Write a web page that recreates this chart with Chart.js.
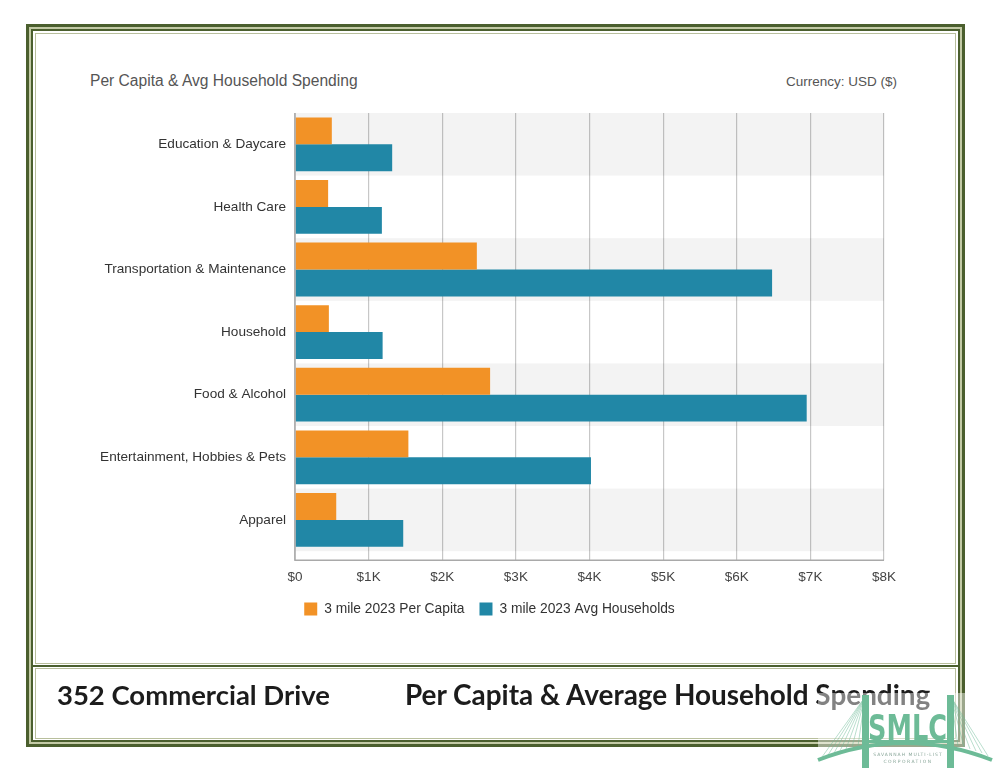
<!DOCTYPE html>
<html><head><meta charset="utf-8">
<script src="https://cdn.jsdelivr.net/npm/chart.js@4.4.0/dist/chart.umd.min.js"></script>
<style>
html,body{margin:0;padding:0;background:#fff;width:993px;height:768px;overflow:hidden;position:relative;font-family:"Liberation Sans",Arial,sans-serif}
.abs{position:absolute;box-sizing:border-box}
.foot{position:absolute;font-family:Lato,"Open Sans",sans-serif;font-weight:bold;color:#1c1c1c;white-space:nowrap;line-height:1}
</style></head><body>
<div class="abs" style="left:26px;top:24px;width:939px;height:723px;border:3px solid #4b5f2e;background:#c3caa6"></div>
<div class="abs" style="left:31px;top:29px;width:929px;height:713px;border:2px solid #4b5f2e;background:#fff"></div>
<div class="abs" style="left:35px;top:33px;width:921px;height:631px;border:1px solid #b8bf9c;background:#fff"></div>
<div class="abs" style="left:33px;top:665px;width:925px;height:2px;background:#4b5f2e"></div>
<div class="abs" style="left:35px;top:668px;width:921px;height:71px;border:1px solid #b8bf9c;background:#fff"></div>

<div class="abs" style="left:90px;top:72px;font-size:15.6px;color:#555;white-space:nowrap">Per Capita &amp; Avg Household Spending</div>
<div class="abs" style="right:96px;top:74px;font-size:13.5px;color:#555;white-space:nowrap">Currency: USD ($)</div>

<div class="abs" style="left:0;top:0;width:993px;height:768px"><canvas id="c"></canvas></div>

<div class="foot" id="f1" style="left:57px;top:682px;font-size:26px">352 Commercial Drive</div>
<div class="foot" id="f2" style="left:405px;top:682px;font-size:26px">Per Capita &amp; Average Household Spending</div>

<svg class="abs" style="left:0;top:0" width="993" height="768" viewBox="0 0 993 768">
  <rect x="818" y="693" width="172" height="75" fill="#fff" opacity="0.45"/>
  <g stroke="#6dbb97" stroke-width="0.6" opacity="0.8">
    <line x1="865" y1="697" x2="822" y2="757"/><line x1="865" y1="697" x2="828" y2="755"/>
    <line x1="865" y1="697" x2="834" y2="753"/><line x1="865" y1="697" x2="840" y2="751"/>
    <line x1="865" y1="697" x2="846" y2="749"/><line x1="865" y1="697" x2="852" y2="747"/>
    <line x1="865" y1="697" x2="858" y2="746"/>
    <line x1="951" y1="697" x2="958" y2="746"/><line x1="951" y1="697" x2="964" y2="747"/>
    <line x1="951" y1="697" x2="970" y2="749"/><line x1="951" y1="697" x2="976" y2="751"/>
    <line x1="951" y1="697" x2="982" y2="753"/><line x1="951" y1="697" x2="988" y2="756"/>
  </g>
  <rect x="862" y="695" width="7" height="73" fill="#6dbb97"/>
  <rect x="947" y="695" width="7" height="73" fill="#6dbb97"/>
  <text x="868" y="740" font-family="DejaVu Sans Condensed, DejaVu Sans" font-weight="bold" font-size="36" fill="#6dbb97" textLength="79" lengthAdjust="spacingAndGlyphs">SMLC</text>
  <rect x="862" y="740" width="92" height="3" fill="#6dbb97"/>
  <path d="M818 760 Q905 726 992 760" stroke="#6dbb97" stroke-width="4" fill="none"/>
  <text x="908" y="756" font-family="DejaVu Sans" font-size="4.5" fill="#8aa79a" text-anchor="middle" letter-spacing="1">SAVANNAH MULTI-LIST</text>
  <text x="908" y="763" font-family="DejaVu Sans" font-size="4.5" fill="#8aa79a" text-anchor="middle" letter-spacing="1.5">CORPORATION</text>
</svg>

<script>
const categories = ['Education & Daycare','Health Care','Transportation & Maintenance','Household','Food & Alcohol','Entertainment, Hobbies & Pets','Apparel'];
const perCapita = [500, 450, 2470, 460, 2650, 1540, 560];
const avgHouseholds = [1320, 1180, 6480, 1190, 6950, 4020, 1470];
const xTickLabels = ['$0','$1K','$2K','$3K','$4K','$5K','$6K','$7K','$8K'];
const seriesNames = ['3 mile 2023 Per Capita','3 mile 2023 Avg Households'];

// fit footer text widths
(function(){
  const ctx = document.createElement('canvas').getContext('2d');
  [['f1',273],['f2',527]].forEach(([id,w])=>{
    const el = document.getElementById(id);
    ctx.font = 'bold 26px Lato';
    const m = ctx.measureText(el.textContent).width;
    const fs = 26 * w / m;
    el.style.fontSize = fs.toFixed(2)+'px';
    el.style.top = (695 - fs*0.5) + 'px';
  });
})();

const bandPlugin = {
  id:'bands',
  beforeDraw(chart){
    const {ctx, chartArea:a, scales:{y}} = chart;
    const h = a.height / categories.length;
    ctx.save();
    ctx.fillStyle = '#f3f3f3';
    categories.forEach((c,i)=>{
      if(i%2===0){
        const cy = y.getPixelForValue(i);
        ctx.fillRect(a.left, cy-h/2, a.right-a.left, h);
      }
    });
    ctx.restore();
  },
  afterDraw(chart){
    const {ctx, chartArea:a} = chart;
    ctx.save();
    ctx.strokeStyle = '#a9a9a9';
    ctx.lineWidth = 1.5;
    ctx.beginPath();
    ctx.moveTo(a.left, a.top);
    ctx.lineTo(a.left, a.bottom+9);
    ctx.lineTo(a.right, a.bottom+9);
    ctx.stroke();
    ctx.restore();
  }
};

Chart.defaults.font.family = '"Liberation Sans", Arial, sans-serif';
Chart.defaults.font.size = 13.5;
Chart.defaults.color = '#333';

new Chart(document.getElementById('c'), {
  type:'bar',
  data:{
    labels: categories,
    datasets:[
      {label: seriesNames[0], data: perCapita, backgroundColor:'#f29226', categoryPercentage:0.86, barPercentage:1},
      {label: seriesNames[1], data: avgHouseholds, backgroundColor:'#2187a6', categoryPercentage:0.86, barPercentage:1}
    ]
  },
  options:{
    indexAxis:'y',
    responsive:true,
    maintainAspectRatio:false,
    animation:false,
    devicePixelRatio:1,
    layout:{padding:{left:95, top:113, right:109, bottom:142}},
    scales:{
      x:{
        min:0, max:8000, z:1,
        ticks:{stepSize:1000, padding:9, color:'#444', font:{size:13.5}, callback:(v,i)=>xTickLabels[i]},
        grid:{color:'rgba(0,0,0,0.22)', lineWidth:1.2, tickLength:9, drawTicks:true},
        border:{display:false},
        afterFit(s){ s.height = 36; }
      },
      y:{
        grid:{display:false, drawTicks:false},
        border:{display:false},
        ticks:{padding:9, color:'#333', font:{size:13.6}},
        afterFit(s){ s.width = 200; }
      }
    },
    plugins:{
      legend:{
        position:'bottom',
        labels:{boxWidth:13, boxHeight:13, padding:15, color:'#333', font:{size:13.8}}
      },
      tooltip:{enabled:false}
    }
  },
  plugins:[bandPlugin]
});
</script>
</body></html>
